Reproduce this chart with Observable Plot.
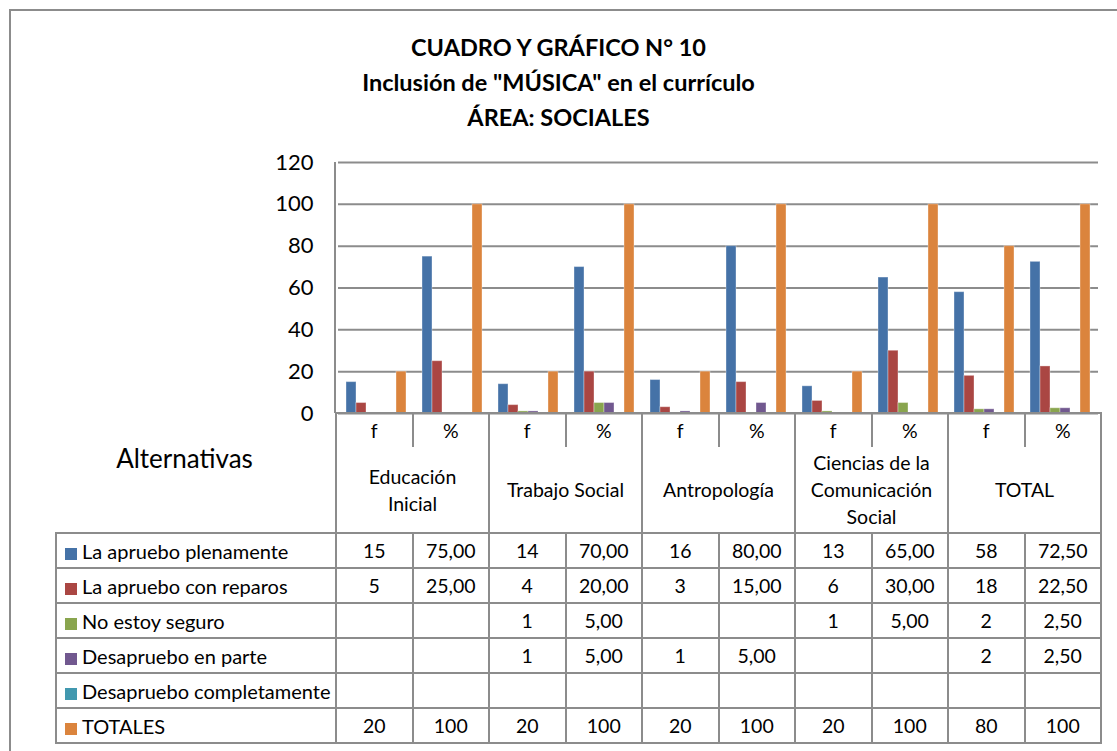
<!DOCTYPE html>
<html>
<head>
<meta charset="utf-8">
<script src="https://cdn.jsdelivr.net/npm/d3@7"></script>
<script src="https://cdn.jsdelivr.net/npm/@observablehq/plot@0.6"></script>
<style>
  body { margin: 0; background: #fff; }
  #wrap { position: relative; width: 1117px; height: 751px; overflow: hidden; background: #fff; font-family: Lato, "Open Sans", sans-serif; color: #000; }
  #marco { position: absolute; left: 9px; top: 9px; width: 3000px; height: 3000px; border: 2px solid #8c8c8c; }
  #titulo { position: absolute; left: 0; top: 30px; width: 1117px; text-align: center; font-weight: bold; font-size: 23.5px; line-height: 35px; }
  #chart { position: absolute; left: 0; top: 0; }
  #eje { position: absolute; left: 334px; top: 162px; width: 0; height: 251px; border-left: 2px solid #8c8c8c; }
  #tabla { position: absolute; left: 55px; top: 412px; border-collapse: collapse; table-layout: fixed; font-size: 19.5px; }
  #tabla td { border: 2px solid #8c8c8c; padding: 0; text-align: center; vertical-align: middle; white-space: pre-line; }
  #tabla td.alt { border: none; font-size: 26px; vertical-align: top; padding-top: 29px; padding-right: 22px; }
  #tabla td.med { border-bottom: none; height: 33px; }
  #tabla td.dep { border-top: none; height: 85px; line-height: 27px; }
  #tabla td.ley { text-align: left; padding-left: 8px; white-space: nowrap; font-size: 20px; }
  #tabla tr.fila td { height: 33px; }
  .sw { display: inline-block; width: 12px; height: 12px; margin-right: 5px; vertical-align: -1px; }
</style>
</head>
<body>
<div id="wrap">
  <div id="marco"></div>
  <div id="chart"></div>
  <div id="eje"></div>
  <div id="titulo"></div>
  <table id="tabla"></table>
</div>
<script>
// ---- Data ----
const tituloLineas = ["CUADRO Y GRÁFICO N° 10", "Inclusión de \"MÚSICA\" en el currículo", "ÁREA: SOCIALES"];
const departamentos = ["Educación\nInicial", "Trabajo Social", "Antropología", "Ciencias de la\nComunicación\nSocial", "TOTAL"];
const medidas = ["f", "%"];
const alternativas = ["La apruebo plenamente", "La apruebo con reparos", "No estoy seguro", "Desapruebo en parte", "Desapruebo completamente", "TOTALES"];
const colores = ["#4572A7", "#AA4643", "#89A54E", "#71588F", "#4198AF", "#DB843D"];
// values in column order: Educación f, %, Trabajo f, %, Antropología f, %, Ciencias f, %, TOTAL f, %
const aprueboPlenamente   = [15, 75, 14, 70, 16, 80, 13, 65, 58, 72.5];
const aprueboConReparos   = [5, 25, 4, 20, 3, 15, 6, 30, 18, 22.5];
const noEstoySeguro       = [null, null, 1, 5, null, null, 1, 5, 2, 2.5];
const desapruebaEnParte   = [null, null, 1, 5, 1, 5, null, null, 2, 2.5];
const desapruebaCompleta  = [null, null, null, null, null, null, null, null, null, null];
const totales             = [20, 100, 20, 100, 20, 100, 20, 100, 80, 100];
const yTicks = [0, 20, 40, 60, 80, 100, 120];

const series = [aprueboPlenamente, aprueboConReparos, noEstoySeguro, desapruebaEnParte, desapruebaCompleta, totales];
const columnas = departamentos.flatMap((d, i) => medidas.map(m => `${i}|${m}`));

const datos = [];
alternativas.forEach((a, i) => series[i].forEach((v, j) => {
  if (v != null) datos.push({columna: columnas[j], alternativa: a, valor: v});
}));

// ---- Title ----
document.getElementById("titulo").innerHTML = tituloLineas.map(t => `<div>${t}</div>`).join("");

// ---- Chart ----
const chart = Plot.plot({
  width: 1117,
  height: 428,
  marginLeft: 335,
  marginRight: 17,
  marginTop: 162,
  marginBottom: 15,
  style: {background: "transparent", fontFamily: "Lato, sans-serif", fontSize: "22px", color: "#000"},
  fx: {domain: columnas, padding: 0, axis: null},
  x: {domain: alternativas, paddingInner: 0, paddingOuter: 0.8, axis: null},
  y: {domain: [0, 120], axis: null},
  color: {domain: alternativas, range: colores},
  marks: [
    Plot.gridY(yTicks, {stroke: "#8c8c8c", strokeOpacity: 1, strokeWidth: 2}),
    Plot.axisY(yTicks, {anchor: "left", tickSize: 0, tickPadding: 25, fontSize: 22, label: null}),
    Plot.barY(datos, {fx: "columna", x: "alternativa", y: "valor", fill: "alternativa", stroke: "#ffffff", strokeOpacity: 0.35, strokeWidth: 1})
  ]
});
document.getElementById("chart").appendChild(chart);

// ---- Data table ----
const fmt = (v, j, i) => {
  if (v == null) return "";
  if (j % 2 === 0 || i === alternativas.length - 1) return String(v);
  return v.toFixed(2).replace(".", ",");
};
let html = `<colgroup><col style="width:280px">${columnas.map(() => `<col style="width:76.5px">`).join("")}</colgroup>`;
html += `<tr><td class="alt" rowspan="2">Alternativas</td>${columnas.map(c => `<td class="med">${c.split("|")[1]}</td>`).join("")}</tr>`;
html += `<tr>${departamentos.map(d => `<td class="dep" colspan="2">${d}</td>`).join("")}</tr>`;
alternativas.forEach((a, i) => {
  html += `<tr class="fila"><td class="ley"><span class="sw" style="background:${colores[i]}"></span>${a}</td>${series[i].map((v, j) => `<td>${fmt(v, j, i)}</td>`).join("")}</tr>`;
});
document.getElementById("tabla").innerHTML = html;
</script>
</body>
</html>
